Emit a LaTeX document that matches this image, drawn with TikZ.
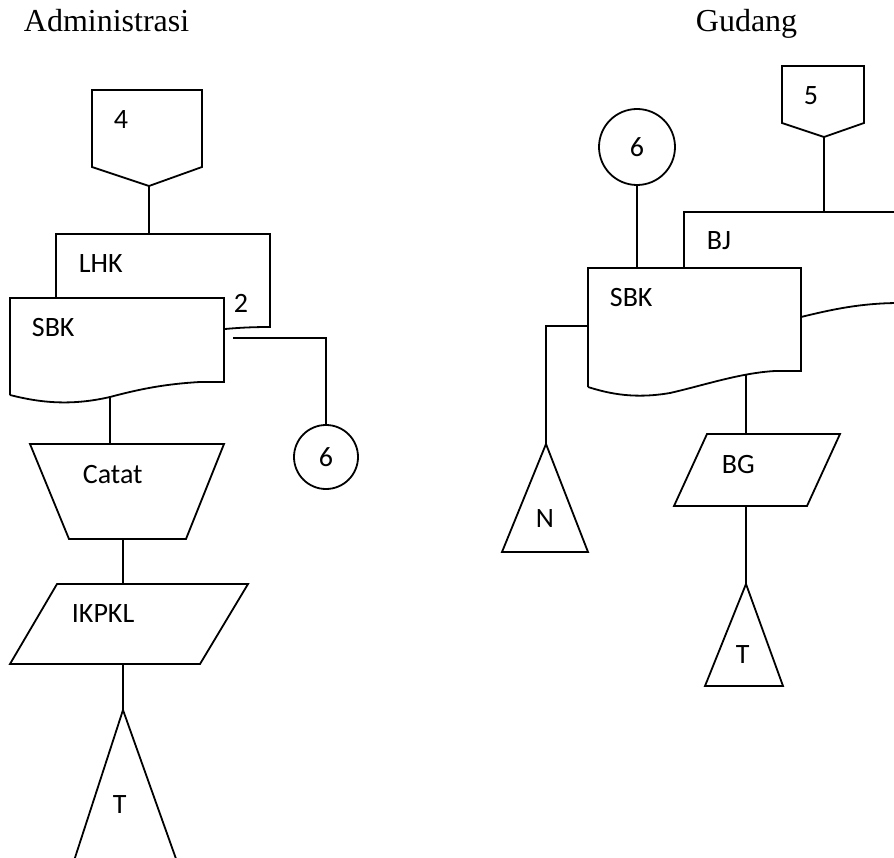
\documentclass[tikz,border=0pt]{standalone}
\usepackage{fontspec}
\setmainfont{Liberation Serif}
\newfontfamily\calibri{Carlito}
\begin{document}
\begin{tikzpicture}[x=1pt,y=-1pt,line width=1.8pt,line join=miter,
  lbl/.style={font=\calibri\fontsize{28}{28}\selectfont,inner sep=0pt,anchor=base west},
  ttl/.style={font=\fontsize{32}{32}\selectfont,inner sep=0pt,anchor=base west},
  conn/.style={draw,circle,inner sep=0pt,line width=1.8pt,font=\calibri\fontsize{28}{28}\selectfont}]
\useasboundingbox (0,0) rectangle (894,858);
\clip (0,0) rectangle (894,858);

% ---------- headings ----------
\node[ttl] (tadm) at (23,32) {Administrasi};
\node[ttl] (tgud) at (695,32) {Gudang};

% ---------- Administrasi ----------
% off-page connector 4
\draw (92,90) -- (202,90) -- (202,167) -- (149,186) -- (92,167) -- cycle;
\coordinate (opc4) at (149,186);
\node[lbl] (l4) at (113,129) {4};

% document LHK (behind SBK)
\draw (56,298) -- (56,234) -- (270,234) -- (270,327) .. controls (250,327) and (236,328) .. (225,329);
\coordinate (lhkT) at (149,234);
\node[lbl] (llhk) at (78,273) {LHK};
\node[lbl] (l2) at (233,313) {2};
\draw (opc4) -- (lhkT);

% document SBK
\draw (10,395) -- (10,298) -- (224,298) -- (224,382) -- (200,382)
  .. controls (165,384) and (140,389) .. (110,397)
  .. controls (75,405) and (45,404) .. (10,395);
\node[lbl] (lsbk) at (31,337) {SBK};
\coordinate (sbkR) at (233,338);
\coordinate (sbkB) at (110,397);

% on-page connector 6
\node[conn,minimum size=64pt] (c6a) at (326,457) {6};
\draw (sbkR) -| (c6a.north);

% manual operation Catat
\draw (30,444) -- (224,444) -- (186,539) -- (69,539) -- cycle;
\coordinate (catT) at (110,444);
\coordinate (catB) at (123,539);
\node[lbl] (lcat) at (82,483) {Catat};
\draw (sbkB) -- (catT);

% data IKPKL
\draw (57,584) -- (248,584) -- (200,664) -- (10,664) -- cycle;
\coordinate (ikT) at (123,584);
\coordinate (ikB) at (123,664);
\node[lbl] (lik) at (71,622) {IKPKL};
\draw (catB) -- (ikT);

% storage T
\draw (71,870) -- (123,710) -- (180,870);
\coordinate (tAp) at (123,710);
\node[lbl] (lta) at (112,813) {T};
\draw (ikB) -- (tAp);

% ---------- Gudang ----------
% off-page connector 5
\draw (782,66) -- (864,66) -- (864,123) -- (824,137) -- (782,123) -- cycle;
\coordinate (opc5) at (824,137);
\node[lbl] (l5) at (803,105) {5};

% document BJ (behind SBK)
\draw (684,268) -- (684,212) -- (900,212);
\draw (801,317) .. controls (830,310) and (860,303) .. (900,303);
\coordinate (bjT) at (824,212);
\node[lbl] (lbj) at (706,250) {BJ};
\draw (opc5) -- (bjT);

% document SBK
\draw (588,387) -- (588,268) -- (801,268) -- (801,371) -- (775,371)
  .. controls (740,373) and (705,385) .. (670,393)
  .. controls (635,399) and (610,394) .. (588,387);
\node[lbl] (rsbk) at (609,307) {SBK};
\coordinate (rsbkT) at (637,268);
\coordinate (rsbkL) at (588,326);
\coordinate (rsbkB) at (746,375);

% on-page connector 6
\node[conn,minimum size=76pt] (c6b) at (637,147) {6};
\draw (c6b.south) -- (rsbkT);

% storage N
\draw (502,552) -- (546,444) -- (588,552) -- cycle;
\coordinate (nAp) at (546,444);
\node[lbl] (ln) at (535,527) {N};
\draw (rsbkL) -| (nAp);

% data BG
\draw (707,434) -- (840,434) -- (807,506) -- (674,506) -- cycle;
\coordinate (bgT) at (746,434);
\coordinate (bgB) at (746,506);
\node[lbl] (lbg) at (721,473) {BG};
\draw (rsbkB) -- (bgT);

% storage T
\draw (705,686) -- (746,584) -- (783,686) -- cycle;
\coordinate (tbAp) at (746,584);
\node[lbl] (ltb) at (735,663) {T};
\draw (bgB) -- (tbAp);
\end{tikzpicture}
\end{document}
